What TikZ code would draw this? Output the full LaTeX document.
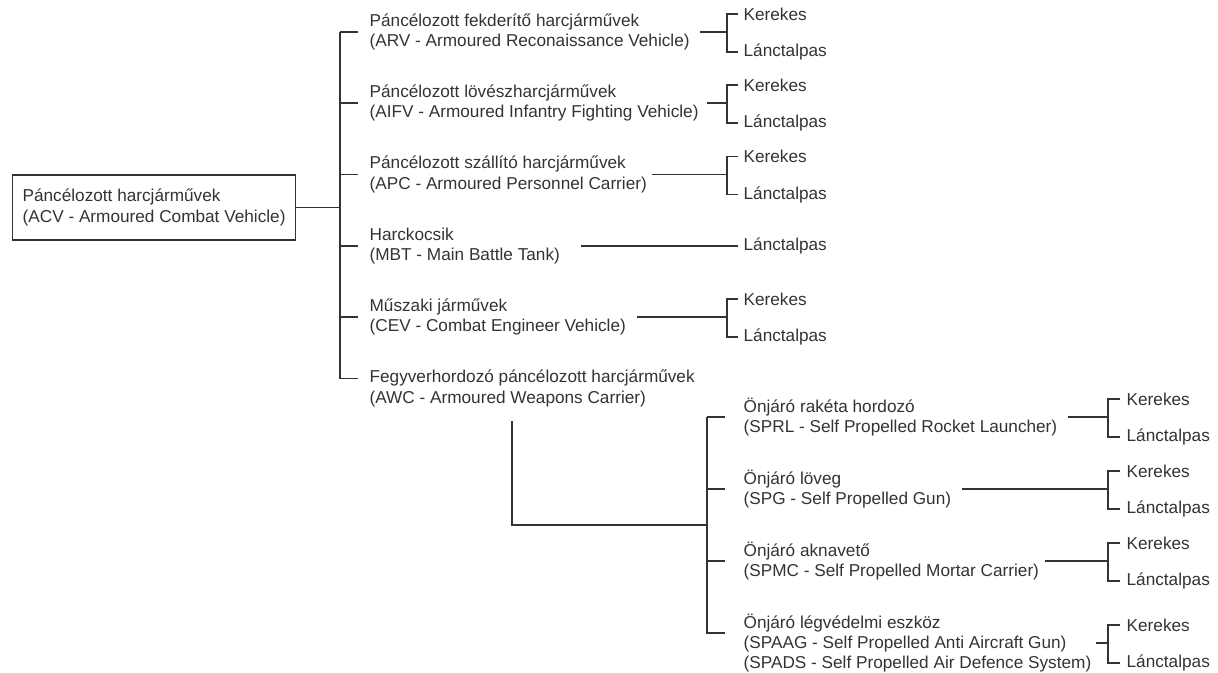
\documentclass[tikz,border=0pt]{standalone}
\usepackage{fontspec}
\setmainfont{Liberation Sans}
\usetikzlibrary{calc}
\begin{document}
\begin{tikzpicture}[x=0.5pt,y=-0.5pt,color=black!80,line width=0.65pt,
  lbl/.style={anchor=west,align=left,inner sep=0pt,font=\fontsize{8.6}{10.2}\selectfont},
  leaf/.style={anchor=west,inner sep=0pt,font=\fontsize{8.6}{10.2}\selectfont}]
\useasboundingbox (0,0) rectangle (1218,673);
% root
\node[lbl,draw,inner xsep=5pt,minimum height=32.5pt] (acv) at (12,207.5)
  {Páncélozott harcjárművek\\(ACV - Armoured Combat Vehicle)};
% first level
\node[lbl] (arv) at (369,32) {Páncélozott fekderítő harcjárművek\\(ARV - Armoured Reconaissance Vehicle)};
\node[lbl] (aifv) at (369,103) {Páncélozott lövészharcjárművek\\(AIFV - Armoured Infantry Fighting Vehicle)};
\node[lbl] (apc) at (369,174.5) {Páncélozott szállító harcjárművek\\(APC - Armoured Personnel Carrier)};
\node[lbl] (mbt) at (369,246) {Harckocsik\\(MBT - Main Battle Tank)};
\node[lbl] (cev) at (369,317) {Műszaki járművek\\(CEV - Combat Engineer Vehicle)};
\node[lbl] (awc) at (369,388.5) {Fegyverhordozó páncélozott harcjárművek\\(AWC - Armoured Weapons Carrier)};
\coordinate (bus) at (340,0);
\draw (acv.east) -- (acv.east -| bus);
\draw (arv.west -| bus) -- ([yshift=5pt]awc.west -| bus) -- ([shift={(-5.5pt,5pt)}]awc.west);
\foreach \n in {arv,aifv,apc,mbt,cev}
  \draw (\n.west -| bus) -- ([xshift=-5.5pt]\n.west);
% wheeled / tracked
\coordinate (rbus) at (727,0);
\coordinate (rleaf) at (743,0);
\foreach \n/\g in {arv/5pt,aifv/4pt,apc/2pt,cev/5pt}{
  \node[leaf,yshift=9pt] (\n-k) at (\n.west -| rleaf) {Kerekes};
  \node[leaf,yshift=-10pt] (\n-l) at (\n.west -| rleaf) {Lánctalpas};
  \draw ([xshift=\g]\n.east) -- (\n.east -| rbus);
  \draw ([xshift=-2.5pt]\n-k.west) -| (\n.east -| rbus) |- ([xshift=-2.5pt]\n-l.west);
}
\node[leaf] (mbt-l) at (mbt.west -| rleaf) {Lánctalpas};
\draw ([xshift=10pt]mbt.east) -- ([xshift=-2.5pt]mbt-l.west);
% second level
\node[lbl] (sprl) at (743,417) {Önjáró rakéta hordozó\\(SPRL - Self Propelled Rocket Launcher)};
\node[lbl] (spg) at (743,489) {Önjáró löveg\\(SPG - Self Propelled Gun)};
\node[lbl] (spmc) at (743,561) {Önjáró aknavető\\(SPMC - Self Propelled Mortar Carrier)};
\node[lbl] (spaag) at (743,643) {Önjáró légvédelmi eszköz\\(SPAAG - Self Propelled Anti Aircraft Gun)\\(SPADS - Self Propelled Air Defence System)};
\coordinate (sbus) at (707,0);
\coordinate (awcdrop) at (512,421);
\coordinate (sjoin) at ($(spg.west)!.5!(spmc.west)$);
\draw (awcdrop) |- (sjoin -| sbus);
\draw (sprl.west -| sbus) -- ([yshift=5pt]spaag.west -| sbus) -- ([shift={(-9pt,5pt)}]spaag.west);
\foreach \n in {sprl,spg,spmc}
  \draw (\n.west -| sbus) -- ([xshift=-9pt]\n.west);
% wheeled / tracked
\coordinate (tbus) at (1108,0);
\coordinate (tleaf) at (1126,0);
\foreach \n/\g in {sprl/5pt,spg/5pt,spmc/2.5pt,spaag/2pt}{
  \node[leaf,yshift=9pt] (\n-k) at (\n.west -| tleaf) {Kerekes};
  \node[leaf,yshift=-10pt] (\n-l) at (\n.west -| tleaf) {Lánctalpas};
  \draw ([xshift=\g]\n.east) -- (\n.east -| tbus);
  \draw ([xshift=-3pt]\n-k.west) -| (\n.east -| tbus) |- ([xshift=-3pt]\n-l.west);
}
\end{tikzpicture}
\end{document}
